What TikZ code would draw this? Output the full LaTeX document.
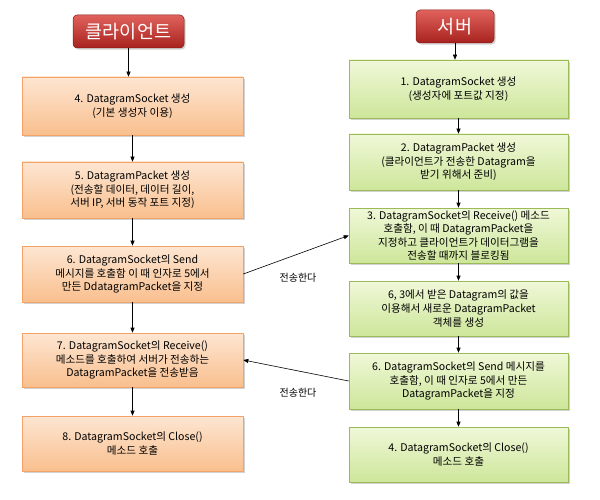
\documentclass[tikz,border=0pt]{standalone}
\usepackage{fontspec}
\setmainfont{Noto Sans CJK KR}
\usetikzlibrary{arrows.meta,shadows}
\definecolor{orTop}{HTML}{FDE6D2}
\definecolor{orBot}{HTML}{F9BF8E}
\definecolor{orLine}{HTML}{F2A365}
\definecolor{grTop}{HTML}{F0F8D8}
\definecolor{grBot}{HTML}{CDE69A}
\definecolor{grLine}{HTML}{9BBB59}
\definecolor{rdTop}{HTML}{E0625C}
\definecolor{rdBot}{HTML}{A8221E}
\tikzset{
  base/.style={draw, line width=0.6pt, align=center, inner sep=1pt,
    font=\fontsize{10.6}{13.6}\selectfont,
    drop shadow={opacity=0.35, shadow xshift=1.6pt, shadow yshift=-1.6pt}},
  cbox/.style={base, draw=orLine, top color=orTop, bottom color=orBot,
    minimum width=221pt},
  sbox/.style={base, draw=grLine, top color=grTop, bottom color=grBot,
    minimum width=219pt},
  title/.style={draw=rdBot!80!black, line width=0.5pt, rounded corners=4pt,
    top color=rdTop, bottom color=rdBot, text=white,
    font=\fontsize{18.5}{21}\selectfont, inner sep=0pt,
    drop shadow={opacity=0.35, shadow xshift=1.6pt, shadow yshift=-1.6pt}},
  arr/.style={-{Triangle[length=5pt,width=4pt]}, line width=0.6pt, black},
  lbl/.style={font=\fontsize{10}{12}\selectfont}
}
\begin{document}
\begin{tikzpicture}[x=1pt,y=-1pt]
\useasboundingbox[fill=white] (0,0) rectangle (600,500);
% titles
\node[title, minimum width=111pt, minimum height=33pt] (ct) at (128.5,31.5) {클라이언트};
\node[title, minimum width=78pt, minimum height=33pt] (st) at (455,26.5) {서버};
% client
\node[cbox, minimum height=58pt] (c1) at (132.5,106) {4. DatagramSocket 생성\\(기본 생성자 이용)};
\node[cbox, minimum height=56pt] (c2) at (132.5,190) {5. DatagramPacket 생성\\(전송할 데이터, 데이터 길이,\\서버 IP, 서버 동작 포트 지정)};
\node[cbox, minimum height=56pt] (c3) at (132.5,274) {6. DatagramSocket의 Send\\메시지를 호출함 이 때 인자로 5에서\\만든 DdatagramPacket을 지정};
\node[cbox, minimum height=54pt] (c4) at (132.5,360) {7. DatagramSocket의 Receive()\\메소드를 호출하여 서버가 전송하는\\DatagramPacket을 전송받음};
\node[cbox, minimum height=55pt] (c5) at (132.5,443.5) {8. DatagramSocket의 Close()\\메소드 호출};
% server
\node[sbox, minimum height=58pt] (s1) at (458.5,89) {1. DatagramSocket 생성\\(생성자에 포트값 지정)};
\node[sbox, minimum height=56pt] (s2) at (458.5,162) {2. DatagramPacket 생성\\(클라이언트가 전송한 Datagram을\\받기 위해서 준비)};
\node[sbox, minimum height=55pt] (s3) at (458.5,235.5) {3. DatagramSocket의 Receive() 메소드\\호출함, 이 때 DatagramPacket을\\지정하고 클라이언트가 데이터그램을\\전송할 때까지 블로킹됨};
\node[sbox, minimum height=55pt] (s4) at (458.5,308.5) {6, 3에서 받은 Datagram의 값을\\이용해서 새로운 DatagramPacket\\객체를 생성};
\node[sbox, minimum height=56pt] (s5) at (458.5,381) {6. DatagramSocket의 Send 메시지를\\호출함, 이 때 인자로 5에서 만든\\DatagramPacket을 지정};
\node[sbox, minimum height=55pt] (s6) at (458.5,454.5) {4. DatagramSocket의 Close()\\메소드 호출};
% vertical arrows
\draw[arr] (ct.south) -- (c1.north -| ct.south);
\draw[arr] (c1) -- (c2);
\draw[arr] (c2) -- (c3);
\draw[arr] (c3) -- (c4);
\draw[arr] (c4) -- (c5);
\draw[arr] (st.south) -- (s1.north -| st.south);
\draw[arr] (s1) -- (s2);
\draw[arr] (s2) -- (s3);
\draw[arr] (s3) -- (s4);
\draw[arr] (s4) -- (s5);
\draw[arr] (s5) -- (s6);
% cross arrows
\draw[arr] (c3.east) -- (s3.west);
\draw[arr] (s5.west) -- (c4.east);
\node[lbl] (l1) at (298,278) {전송한다};
\node[lbl] (l2) at (298,393) {전송한다};
\end{tikzpicture}
\end{document}
